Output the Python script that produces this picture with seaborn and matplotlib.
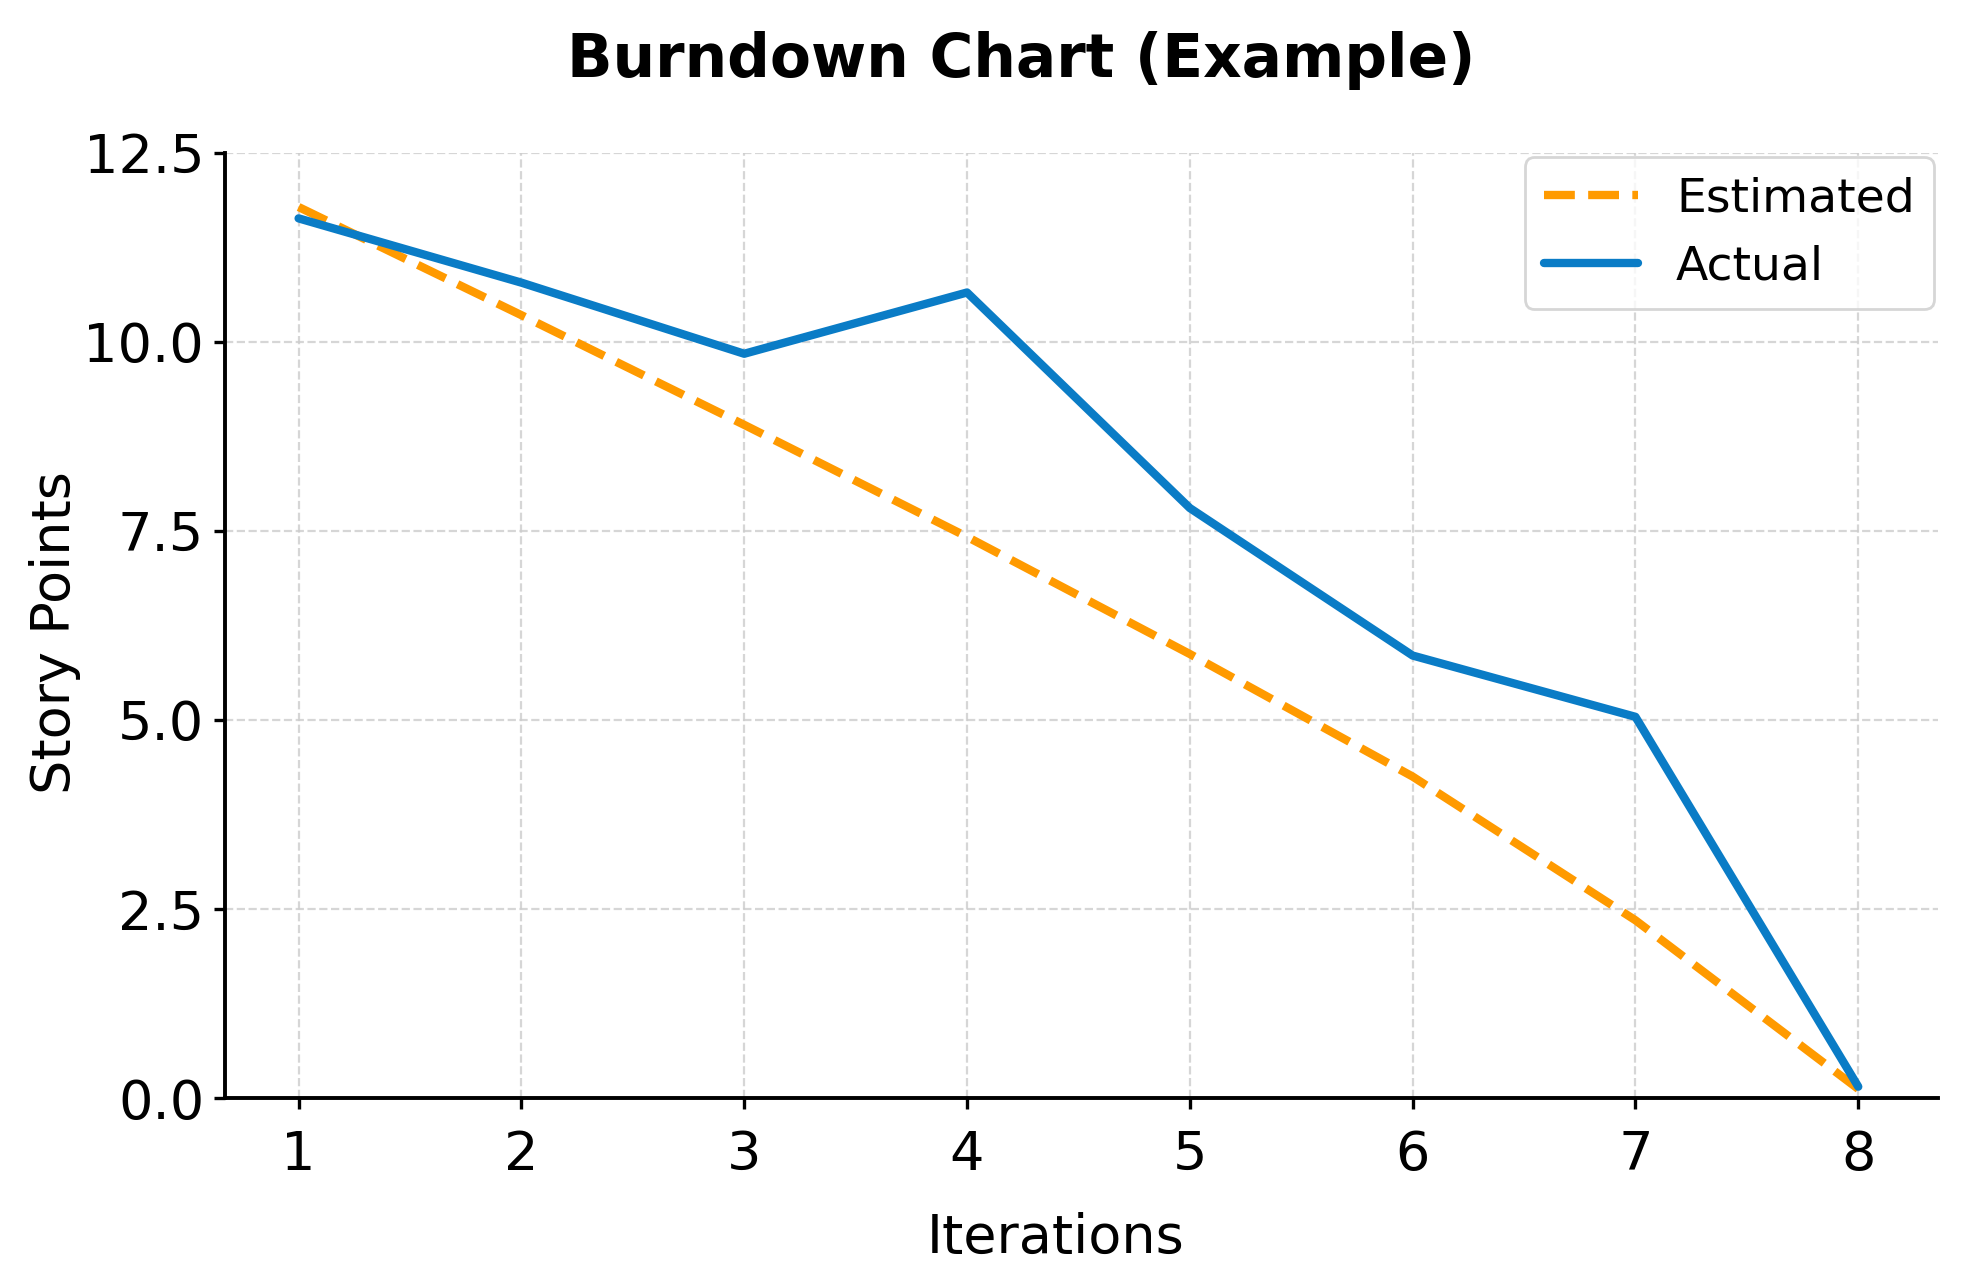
import pandas as pd
import seaborn as sns
import matplotlib.pyplot as plt

# Data
iterations = [1, 2, 3, 4, 5, 6, 7, 8]
estimated = [11.78, 10.35, 8.9, 7.42, 5.87, 4.25, 2.35, 0.12]
actual = [11.63, 10.78, 9.84, 10.65, 7.8, 5.85, 5.04, 0.15]

df = pd.DataFrame({"Iteration": iterations, "Estimated": estimated, "Actual": actual})

sns.set_style("ticks")
plt.rcParams['font.family'] = ['DejaVu Sans']
plt.rcParams['text.color'] = 'black'
plt.rcParams['axes.labelcolor'] = 'black'
plt.rcParams['xtick.color'] = 'black'
plt.rcParams['ytick.color'] = 'black'

fig = plt.figure(figsize=(9.82, 6.41), dpi=200)
ax = fig.add_axes([0.1146, 0.1435, 0.8724, 0.7375])

sns.lineplot(data=df, x="Iteration", y="Estimated", ax=ax, color="#FF9A00",
             linestyle="--", linewidth=3, label="Estimated")
sns.lineplot(data=df, x="Iteration", y="Actual", ax=ax, color="#0A7CC6",
             linewidth=3, label="Actual")

ax.set_ylim(0, 12.5)
ax.set_xlim(0.67, 8.36)
ax.set_xticks(iterations)
ax.set_yticks([0, 2.5, 5, 7.5, 10, 12.5])
ax.tick_params(labelsize=19.5, width=1.2, length=4)
ax.tick_params(axis="x", pad=7)
ax.grid(True, linestyle="--", color="#cccccc", linewidth=0.8, alpha=0.8)
sns.despine(ax=ax)
for s in ["left", "bottom"]:
    ax.spines[s].set_linewidth(1.4)
    ax.spines[s].set_color("black")

ax.set_xlabel("Iterations", fontsize=19.5)
ax.set_ylabel("Story Points", fontsize=19.5)
ax.xaxis.set_label_coords(0.485, -0.12)
ax.yaxis.set_label_coords(-0.084, 0.492)

fig.text(0.52, 0.953, "Burndown Chart (Example)", fontsize=21.5, fontweight="bold",
         ha="center", va="center")

ax.legend(loc="upper right", fontsize=17, borderaxespad=0.1, frameon=True,
          edgecolor="#cccccc", fancybox=True)

fig.savefig("out.png", dpi=200)
